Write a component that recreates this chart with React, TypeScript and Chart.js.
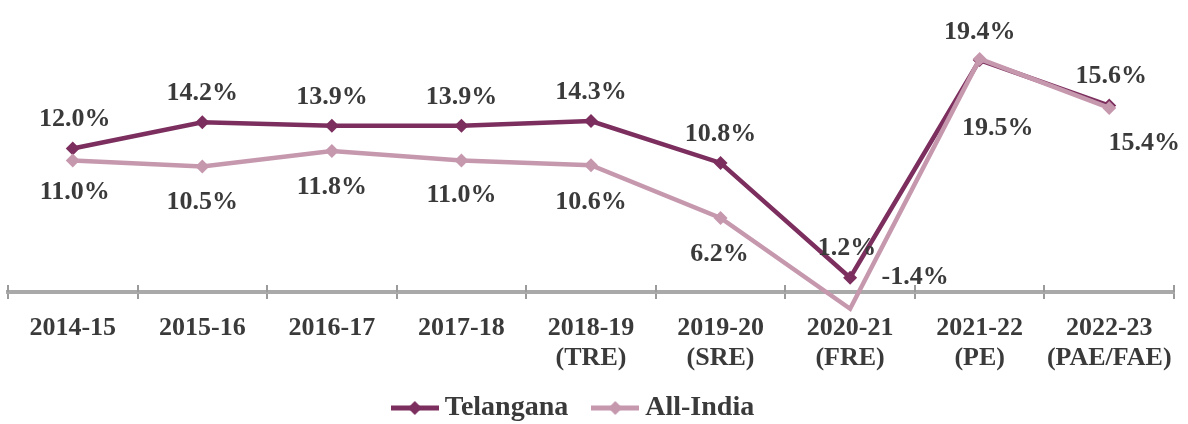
import React, { useEffect, useRef } from "react";
import { Chart, registerables } from "chart.js";

Chart.register(...registerables);

// ---- Data ----
const categories: string[][] = [
  ["2014-15"],
  ["2015-16"],
  ["2016-17"],
  ["2017-18"],
  ["2018-19", "(TRE)"],
  ["2019-20", "(SRE)"],
  ["2020-21", "(FRE)"],
  ["2021-22", "(PE)"],
  ["2022-23", "(PAE/FAE)"],
];
const telangana: number[] = [12.0, 14.2, 13.9, 13.9, 14.3, 10.8, 1.2, 19.4, 15.6];
const allIndia: number[] = [11.0, 10.5, 11.8, 11.0, 10.6, 6.2, -1.4, 19.5, 15.4];
const seriesNames: string[] = ["Telangana", "All-India"];

// ---- Styles ----
const FONT = "'Liberation Serif', 'Times New Roman', serif";
const TEXT_COLOR = "#3a3a3a";
const TEL_COLOR = "#7c2f5e";
const IND_COLOR = "#c698ae";
const AXIS_COLOR = "#a9a9a9";

// label offsets (dx, dy) relative to each point, per series
const labelOffsetTel: [number, number][] = [
  [2, -29], [0, -29], [0, -29], [0, -29], [0, -29], [0, -29], [-3, -29], [0, -28], [2, -29],
];
const labelOffsetInd: [number, number][] = [
  [2, 32], [0, 36], [0, 36], [0, 35], [0, 37], [-1, 36], [65, -31], [18, 69], [35, 35],
];

function makeLegendIcon(color: string): HTMLCanvasElement {
  const c = document.createElement("canvas");
  c.width = 48;
  c.height = 14;
  const g = c.getContext("2d")!;
  g.strokeStyle = color;
  g.lineWidth = 5;
  g.beginPath();
  g.moveTo(0, 7);
  g.lineTo(48, 7);
  g.stroke();
  g.fillStyle = color;
  g.beginPath();
  g.moveTo(24, 0);
  g.lineTo(31, 7);
  g.lineTo(24, 14);
  g.lineTo(17, 7);
  g.closePath();
  g.fill();
  return c;
}

const fmt = (v: number) => v.toFixed(1) + "%";

export default function App() {
  const canvasRef = useRef<HTMLCanvasElement | null>(null);

  useEffect(() => {
    if (!canvasRef.current) return;
    const icons = [makeLegendIcon(TEL_COLOR), makeLegendIcon(IND_COLOR)];

    const labelPlugin = {
      id: "pointLabels",
      afterDatasetsDraw(chart: any) {
        const ctx = chart.ctx;
        ctx.save();
        ctx.font = `bold 26px ${FONT}`;
        ctx.fillStyle = TEXT_COLOR;
        ctx.textAlign = "center";
        ctx.textBaseline = "middle";
        const offs = [labelOffsetTel, labelOffsetInd];
        chart.data.datasets.forEach((ds: any, di: number) => {
          const meta = chart.getDatasetMeta(di);
          meta.data.forEach((pt: any, i: number) => {
            const [dx, dy] = offs[di][i];
            ctx.fillText(fmt(ds.data[i]), pt.x + dx, pt.y + dy);
          });
        });
        ctx.restore();
      },
    };

    const tickUpPlugin = {
      id: "tickUp",
      beforeDatasetsDraw(chart: any) {
        const xs = chart.scales.x;
        const ctx = chart.ctx;
        const n = categories.length;
        const w = xs.getPixelForValue(1) - xs.getPixelForValue(0);
        ctx.save();
        ctx.strokeStyle = "#9b9b9b";
        ctx.lineWidth = 2;
        for (let i = 0; i <= n; i++) {
          const x = Math.round(xs.getPixelForValue(0) - w / 2 + i * w);
          ctx.beginPath();
          ctx.moveTo(x, xs.top - 7);
          ctx.lineTo(x, xs.top);
          ctx.stroke();
        }
        ctx.restore();
      },
    };

    const layoutTweak = {
      id: "layoutTweak",
      afterLayout(chart: any) {
        if (chart.legend) {
          chart.legend.right -= 29;
        }
        if (chart.scales.x) {
          chart.scales.x.bottom = chart.height;
        }
      },
    };

    const chart = new Chart(canvasRef.current, {
      type: "line",
      data: {
        labels: categories,
        datasets: [
          {
            label: seriesNames[0],
            data: telangana,
            borderColor: TEL_COLOR,
            backgroundColor: TEL_COLOR,
            borderWidth: 4.5,
            pointStyle: "rectRot",
            pointRadius: 7,
            pointBorderWidth: 0,
            tension: 0,
            clip: false,
            order: 1,
          },
          {
            label: seriesNames[1],
            data: allIndia,
            borderColor: IND_COLOR,
            backgroundColor: IND_COLOR,
            borderWidth: 4.5,
            pointStyle: "rectRot",
            pointRadius: 7,
            pointBorderWidth: 0,
            tension: 0,
            clip: false,
            order: 0,
          },
        ],
      },
      options: {
        animation: false,
        responsive: true,
        maintainAspectRatio: false,
        layout: { padding: { top: 29, left: 8, right: 14, bottom: 0 } },
        scales: {
          x: {
            offset: true,
            border: { display: true, color: AXIS_COLOR, width: 4 },
            grid: {
              display: true,
              drawOnChartArea: false,
              tickLength: 7,
              color: "#9b9b9b",
              lineWidth: 2,
              offset: true,
            },
            ticks: {
              color: TEXT_COLOR,
              padding: 14,
              maxRotation: 0,
              autoSkip: false,
              font: { family: FONT, size: 26, weight: "bold", lineHeight: 30 / 26 },
            },
            afterFit: (scale: any) => {
              scale.height = 71;
            },
          },
          y: {
            display: false,
            min: 0,
            max: 22,
          },
        },
        plugins: {
          tooltip: { enabled: false },
          legend: {
            display: true,
            position: "bottom",
            maxHeight: 61,
            labels: {
              usePointStyle: true,
              pointStyleWidth: 32,
              padding: 31,
              color: TEXT_COLOR,
              font: { family: FONT, size: 28, weight: "bold" },
              sort: (a: any, b: any) => a.datasetIndex - b.datasetIndex,
              generateLabels: (ch: any) => {
                const items = Chart.defaults.plugins.legend.labels.generateLabels(ch);
                items.forEach((it: any) => {
                  it.pointStyle = icons[it.datasetIndex];
                  it.lineWidth = 0;
                  it.fontColor = TEXT_COLOR;
                });
                return items;
              },
            },
          },
        },
      },
      plugins: [labelPlugin, tickUpPlugin, layoutTweak],
    } as any);

    return () => chart.destroy();
  }, []);

  return (
    <div style={{ position: "fixed", left: 0, top: 0, width: 1188, height: 424, background: "#fff" }}>
      <canvas ref={canvasRef} />
    </div>
  );
}
